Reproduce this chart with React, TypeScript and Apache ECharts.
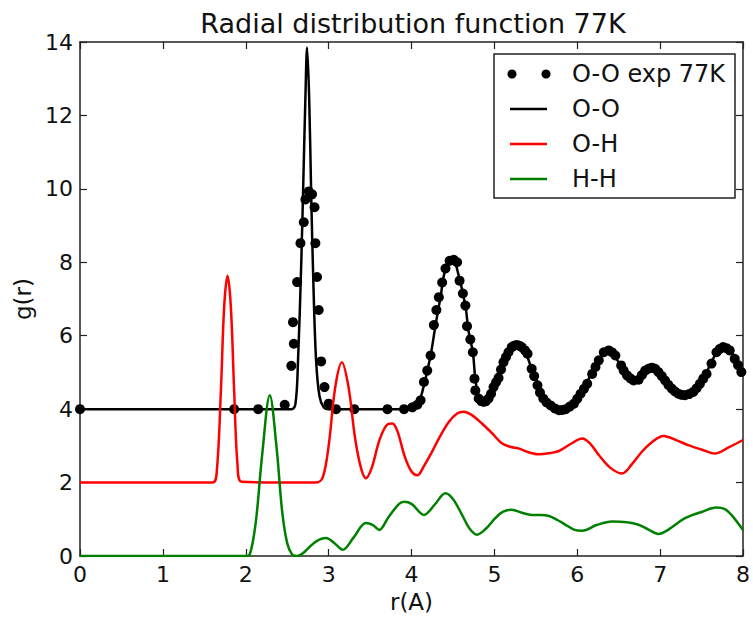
import React, { useEffect, useRef } from "react";
import * as echarts from "echarts";

const FONT = "DejaVu Sans";

const titleText = "Radial distribution function 77K";
const xTicks = [0, 1, 2, 3, 4, 5, 6, 7, 8];
const yTicks = [0, 2, 4, 6, 8, 10, 12, 14];
const legendLabels = ["O-O exp 77K", "O-O", "O-H", "H-H"];

// experimental O-O (dots)
const expR = [0, 1.86, 2.15, 2.47, 2.55, 2.57, 2.58, 2.62, 2.66, 2.70, 2.72, 2.76, 2.80, 2.83, 2.84, 2.86, 2.88, 2.91, 2.95, 3.00, 3.09, 3.31, 3.71, 3.91, 4.01, 4.07, 4.11, 4.15, 4.19, 4.23, 4.27, 4.30, 4.33, 4.37, 4.41, 4.46, 4.51, 4.55, 4.58, 4.62, 4.65, 4.67, 4.71, 4.74, 4.76, 4.77, 4.81, 4.84, 4.87, 4.90, 4.93, 4.96, 4.99, 5.02, 5.05, 5.08, 5.11, 5.14, 5.17, 5.21, 5.24, 5.27, 5.30, 5.33, 5.37, 5.40, 5.45, 5.48, 5.52, 5.55, 5.59, 5.63, 5.68, 5.73, 5.78, 5.82, 5.86, 5.91, 5.96, 6.00, 6.04, 6.08, 6.12, 6.18, 6.22, 6.26, 6.32, 6.38, 6.42, 6.46, 6.53, 6.56, 6.60, 6.64, 6.68, 6.74, 6.78, 6.82, 6.86, 6.90, 6.94, 6.98, 7.02, 7.06, 7.10, 7.14, 7.18, 7.22, 7.26, 7.30, 7.35, 7.40, 7.44, 7.48, 7.52, 7.56, 7.62, 7.68, 7.72, 7.76, 7.80, 7.84, 7.90, 7.94, 7.98];
const expG = [4.0, 4.0, 4.0, 4.12, 5.18, 6.37, 5.78, 7.46, 8.52, 9.09, 9.71, 9.93, 9.85, 9.5, 8.52, 7.6, 6.7, 5.3, 4.6, 4.15, 4.0, 4.0, 4.0, 4.0, 4.05, 4.12, 4.24, 4.74, 5.05, 5.46, 6.29, 6.7, 7.05, 7.45, 7.83, 8.04, 8.07, 8.0, 7.5, 7.15, 6.82, 6.26, 5.9, 5.55, 4.83, 4.51, 4.29, 4.22, 4.2, 4.22, 4.29, 4.42, 4.6, 4.73, 4.85, 5.08, 5.28, 5.42, 5.55, 5.69, 5.73, 5.75, 5.73, 5.69, 5.6, 5.51, 5.1, 4.9, 4.65, 4.45, 4.29, 4.18, 4.1, 4.02, 3.97, 3.98, 4.0, 4.07, 4.15, 4.28, 4.42, 4.55, 4.69, 4.96, 5.15, 5.33, 5.55, 5.6, 5.55, 5.46, 5.19, 5.05, 4.92, 4.84, 4.78, 4.8, 4.93, 5.05, 5.1, 5.13, 5.1, 5.01, 4.9, 4.78, 4.66, 4.56, 4.48, 4.42, 4.39, 4.38, 4.41, 4.47, 4.57, 4.69, 4.83, 4.96, 5.24, 5.55, 5.64, 5.69, 5.66, 5.6, 5.37, 5.2, 5.01];

// simulated O-O
const ooR = [0, 2.55, 2.6, 2.63, 2.67, 2.70, 2.72, 2.74, 2.765, 2.79, 2.82, 2.85, 2.89, 2.94, 3.0, 4.0, 4.07, 4.13, 4.23, 4.29, 4.35, 4.41, 4.5, 4.57, 4.65, 4.69, 4.74, 4.77, 4.81, 4.87, 4.95, 5.03, 5.11, 5.19, 5.27, 5.37, 5.45, 5.54, 5.66, 5.78, 5.9, 6.02, 6.14, 6.26, 6.38, 6.5, 6.62, 6.70, 6.80, 6.9, 7.02, 7.14, 7.26, 7.38, 7.5, 7.62, 7.74, 7.86, 8.0];
const ooG = [4, 4, 4.15, 5.28, 8.0, 10.7, 12.5, 13.85, 12.5, 9.8, 7.1, 5.28, 4.35, 4.05, 4.0, 4.0, 4.1, 4.47, 5.46, 6.29, 7.05, 7.81, 8.07, 7.63, 6.82, 6.1, 5.56, 4.83, 4.38, 4.24, 4.47, 4.92, 5.28, 5.64, 5.73, 5.55, 5.1, 4.65, 4.15, 3.97, 4.1, 4.38, 4.83, 5.37, 5.6, 5.28, 4.87, 4.78, 5.05, 5.15, 4.92, 4.56, 4.38, 4.42, 4.74, 5.28, 5.69, 5.55, 4.95];

// simulated O-H
const ohR = [0, 1.6, 1.65, 1.7, 1.74, 1.78, 1.82, 1.86, 1.9, 1.95, 2.85, 2.93, 3.0, 3.08, 3.16, 3.24, 3.32, 3.39, 3.45, 3.52, 3.62, 3.72, 3.77, 3.83, 3.92, 4.0, 4.07, 4.15, 4.25, 4.33, 4.45, 4.55, 4.63, 4.72, 4.85, 4.97, 5.09, 5.2, 5.29, 5.42, 5.54, 5.66, 5.78, 5.92, 6.06, 6.16, 6.26, 6.4, 6.54, 6.66, 6.78, 6.9, 7.04, 7.2, 7.34, 7.5, 7.66, 7.82, 8.0];
const ohG = [2, 2, 2.3, 4.5, 6.8, 7.63, 6.8, 4.5, 2.5, 2.02, 2.0, 2.15, 3.0, 4.6, 5.28, 4.6, 3.2, 2.4, 2.12, 2.4, 3.2, 3.6, 3.61, 3.4, 2.7, 2.3, 2.2, 2.45, 2.85, 3.2, 3.65, 3.88, 3.93, 3.85, 3.61, 3.35, 3.07, 2.97, 2.93, 2.82, 2.77, 2.8, 2.86, 3.05, 3.2, 3.05, 2.75, 2.4, 2.25, 2.5, 2.84, 3.1, 3.27, 3.15, 3.02, 2.9, 2.79, 2.95, 3.16];

// simulated H-H
const hhR = [0, 2.0, 2.05, 2.12, 2.2, 2.29, 2.37, 2.44, 2.5, 2.56, 2.62, 2.68, 2.75, 2.85, 2.97, 3.07, 3.17, 3.3, 3.45, 3.53, 3.61, 3.72, 3.85, 3.91, 4.0, 4.15, 4.28, 4.41, 4.5, 4.61, 4.7, 4.79, 4.9, 5.01, 5.1, 5.21, 5.33, 5.45, 5.56, 5.66, 5.76, 5.86, 5.96, 6.06, 6.24, 6.42, 6.6, 6.74, 6.86, 6.98, 7.1, 7.3, 7.5, 7.68, 7.78, 7.86, 8.0];
const hhG = [0, 0, 0.05, 0.9, 2.8, 4.38, 3.0, 1.2, 0.35, 0.04, 0.0, 0.06, 0.2, 0.4, 0.49, 0.35, 0.17, 0.5, 0.9, 0.85, 0.71, 1.05, 1.42, 1.48, 1.42, 1.12, 1.4, 1.71, 1.55, 1.12, 0.75, 0.58, 0.75, 1.03, 1.2, 1.26, 1.18, 1.12, 1.12, 1.09, 0.98, 0.85, 0.72, 0.69, 0.85, 0.94, 0.92, 0.85, 0.72, 0.6, 0.72, 1.03, 1.2, 1.32, 1.28, 1.12, 0.71];

const zip = (a: number[], b: number[]) => a.map((v, i) => [v, b[i]]);

const BLACK = "#000000";
const RED = "#ff0000";
const GREEN = "#008000";

export default function App() {
  const ref = useRef<HTMLDivElement>(null);
  useEffect(() => {
    if (!ref.current) return;
    const chart = echarts.init(ref.current, null, { renderer: "svg" });
    const axisLine = { show: true, onZero: false, lineStyle: { color: "#222", width: 1.5 } };
    const tick = { show: true, inside: true, length: 7, lineStyle: { color: "#222", width: 1.2 } };
    const lbl = { fontSize: 22, color: "#111", fontFamily: FONT };
    const legX = 494, legY = 54, legW = 241, legH = 144;
    const rowY = [74, 109, 144, 179];
    const textX = 572;
    chart.setOption({
      animation: false,
      backgroundColor: "#fff",
      textStyle: { fontFamily: FONT },
      grid: { left: 80, right: 7, top: 42, bottom: 60, containLabel: false },
      xAxis: [
        {
          type: "value", min: 0, max: 8, interval: 1, position: "bottom",
          axisLine, axisTick: tick, splitLine: { show: false },
          axisLabel: { ...lbl, margin: 7, formatter: (v: number) => (xTicks.includes(v) ? String(v) : "") },
          name: "r(A)", nameLocation: "middle", nameGap: 34,
          nameTextStyle: { fontSize: 23, color: "#111", fontFamily: FONT },
        },
        {
          type: "value", min: 0, max: 8, interval: 1, position: "top",
          axisLine, axisTick: tick, splitLine: { show: false }, axisLabel: { show: false },
        },
      ],
      yAxis: [
        {
          type: "value", min: 0, max: 14, interval: 2, position: "left",
          axisLine, axisTick: tick, splitLine: { show: false },
          axisLabel: { ...lbl, margin: 7, formatter: (v: number) => (yTicks.includes(v) ? String(v) : "") },
          name: "g(r)", nameLocation: "middle", nameGap: 42,
          nameTextStyle: { fontSize: 23, color: "#111", fontFamily: FONT },
        },
        {
          type: "value", min: 0, max: 14, interval: 2, position: "right",
          axisLine, axisTick: tick, splitLine: { show: false }, axisLabel: { show: false },
        },
      ],
      series: [
        {
          name: legendLabels[0], type: "scatter", data: zip(expR, expG),
          symbol: "circle", symbolSize: 10, itemStyle: { color: BLACK, opacity: 1 },
          xAxisIndex: 0, yAxisIndex: 0, z: 2,
        },
        {
          name: legendLabels[1], type: "line", data: zip(ooR, ooG), smooth: 0.35,
          showSymbol: false, lineStyle: { color: BLACK, width: 2.5 }, xAxisIndex: 0, yAxisIndex: 0, z: 3,
        },
        {
          name: legendLabels[2], type: "line", data: zip(ohR, ohG), smooth: 0.35,
          showSymbol: false, lineStyle: { color: RED, width: 2.5 }, xAxisIndex: 0, yAxisIndex: 0, z: 3,
        },
        {
          name: legendLabels[3], type: "line", data: zip(hhR, hhG), smooth: 0.35,
          showSymbol: false, lineStyle: { color: GREEN, width: 2.5 }, xAxisIndex: 0, yAxisIndex: 0, z: 3,
        },
      ],
      graphic: [
        {
          type: "text", x: 413, y: 23, z: 10,
          style: { text: titleText, fontSize: 27, fontFamily: FONT, fill: "#111", align: "center", verticalAlign: "middle" },
        },
        {
          type: "rect", shape: { x: legX, y: legY, width: legW, height: legH }, z: 10,
          style: { fill: "#fff", stroke: "#222", lineWidth: 1.5 },
        },
        { type: "circle", shape: { cx: 512, cy: rowY[0], r: 4.5 }, z: 11, style: { fill: BLACK } },
        { type: "circle", shape: { cx: 546, cy: rowY[0], r: 4.5 }, z: 11, style: { fill: BLACK } },
        { type: "line", shape: { x1: 510, y1: rowY[1], x2: 547, y2: rowY[1] }, z: 11, style: { stroke: BLACK, lineWidth: 2.5 } },
        { type: "line", shape: { x1: 510, y1: rowY[2], x2: 547, y2: rowY[2] }, z: 11, style: { stroke: RED, lineWidth: 2.5 } },
        { type: "line", shape: { x1: 510, y1: rowY[3], x2: 547, y2: rowY[3] }, z: 11, style: { stroke: GREEN, lineWidth: 2.5 } },
        ...legendLabels.map((t, i) => ({
          type: "text", x: textX, y: rowY[i], z: 11,
          style: { text: t, fontSize: 24, fontFamily: FONT, fill: "#111", align: "left", verticalAlign: "middle" },
        })),
      ],
    });
    return () => chart.dispose();
  }, []);
  return <div ref={ref} style={{ width: 753, height: 618, position: "absolute", left: 0, top: 0 }} />;
}
